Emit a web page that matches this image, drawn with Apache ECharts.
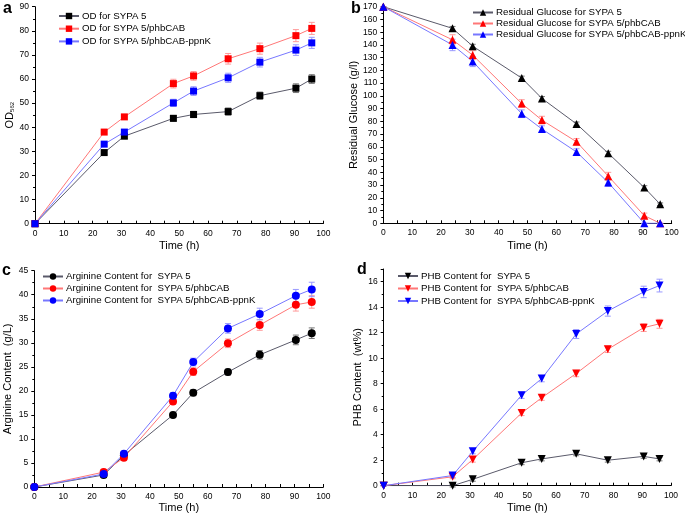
<!DOCTYPE html>
<html><head><meta charset="utf-8">
<script src="https://cdn.jsdelivr.net/npm/echarts@6/dist/echarts.min.js"></script>
<style>html,body{margin:0;padding:0;background:#fff}#c{width:685px;height:517px}</style>
</head><body><div id="c"></div>
<script>
const time = [0, 24, 31, 48, 55, 67, 78, 90.5, 96];

// Panel a: OD562
const odNames = ['OD for SYPA 5', 'OD for SYPA 5/phbCAB', 'OD for SYPA 5/phbCAB-ppnK'];
const odBlack = [0, 29.5, 36.3, 43.7, 45.3, 46.5, 53.1, 56.2, 60.0];
const odRed   = [0, 38.0, 44.3, 58.1, 61.3, 68.4, 72.6, 78.0, 81.0];
const odBlue  = [0, 33.0, 38.0, 50.1, 55.0, 60.5, 67.0, 72.0, 75.0];
const odBlackErr = [0, 0.8, 1.0, 1.2, 1.3, 1.5, 1.5, 1.8, 1.8];
const odRedErr   = [0, 0.8, 1.0, 1.8, 1.8, 2.2, 2.3, 2.5, 2.5];
const odBlueErr  = [0, 0.8, 1.0, 1.5, 1.8, 1.9, 2.0, 2.2, 2.3];

// Panel b: residual glucose
const gluNames = ['Residual Glucose for SYPA 5', 'Residual Glucose for SYPA 5/phbCAB', 'Residual Glucose for SYPA 5/phbCAB-ppnK'];
const gluBlack = [170, 153, 139, 114, 98, 78, 55, 28, 15];
const gluRed   = [170, 144, 132, 94, 81, 64, 37, 6, 0];
const gluBlue  = [170, 140, 127, 86, 74, 56, 32, 0, 0];
const gluBlackErr = [0, 1.5, 1.5, 1.5, 1.5, 1.5, 1.5, 1.5, 1];
const gluRedErr   = [0, 4, 3.5, 3, 3, 2.5, 3, 2, 0];
const gluBlueErr  = [0, 4.5, 4, 3, 2.5, 2.5, 3, 0, 0];

// Panel c: arginine content
const argNames = ['Arginine Content for  SYPA 5', 'Arginine Content for  SYPA 5/phbCAB', 'Arginine Content for  SYPA 5/phbCAB-ppnK'];
const argBlack = [0, 2.5, 6.6, 15.0, 19.6, 23.9, 27.5, 30.6, 32.0];
const argRed   = [0, 3.1, 6.1, 17.8, 24.0, 29.9, 33.7, 37.9, 38.5];
const argBlue  = [0, 2.7, 6.9, 19.0, 26.0, 33.0, 36.0, 39.8, 41.1];
const argBlackErr = [0, 0.5, 0.5, 0.5, 0.6, 0.6, 0.9, 1.0, 1.1];
const argRedErr   = [0, 0.5, 0.5, 0.6, 0.8, 0.9, 1.1, 1.3, 1.3];
const argBlueErr  = [0, 0.5, 0.5, 0.6, 0.8, 1.0, 1.2, 1.3, 1.5];

// Panel d: PHB content
const phbNames = ['PHB Content for  SYPA 5', 'PHB Content for  SYPA 5/phbCAB', 'PHB Content for  SYPA 5/phbCAB-ppnK'];
const phbBlack = [0, 0, 0.5, 1.8, 2.1, 2.5, 2.0, 2.3, 2.1];
const phbRed   = [0, 0.7, 2.05, 5.7, 6.9, 8.8, 10.7, 12.4, 12.7];
const phbBlue  = [0, 0.8, 2.7, 7.1, 8.4, 11.9, 13.7, 15.2, 15.7];
const phbBlackErr = [0, 0.1, 0.15, 0.15, 0.15, 0.15, 0.15, 0.15, 0.15];
const phbRedErr   = [0, 0.15, 0.2, 0.2, 0.2, 0.25, 0.25, 0.3, 0.35];
const phbBlueErr  = [0, 0.15, 0.2, 0.25, 0.25, 0.35, 0.4, 0.45, 0.5];

const xTicksMax = 100;

const FONT = 'Liberation Sans';
const markColors = ['#000000', '#ff0000', '#0000ff'];
const lineColors = ['#5a5a6a', '#ff7777', '#7777ff'];
const errColors  = ['#777777', '#ff9a9a', '#9a9aff'];

const series = [];
function addPanel(g, names, vals, errs, symbol, rotate, size) {
  for (let k = 0; k < 3; k++) {
    const v = vals[k], e = errs[k];
    series.push({
      type: 'custom', xAxisIndex: g, yAxisIndex: g, z: 1, silent: true,
      data: time.map((t, i) => [t, v[i] - e[i], v[i] + e[i]]),
      encode: { x: 0, y: [1, 2] },
      renderItem: function (params, api) {
        const x = api.value(0);
        const lo = api.coord([x, api.value(1)]);
        const hi = api.coord([x, api.value(2)]);
        const hw = 3;
        const st = { stroke: errColors[k], lineWidth: 1 };
        return { type: 'group', children: [
          { type: 'line', shape: { x1: lo[0], y1: lo[1], x2: hi[0], y2: hi[1] }, style: st },
          { type: 'line', shape: { x1: lo[0] - hw, y1: lo[1], x2: lo[0] + hw, y2: lo[1] }, style: st },
          { type: 'line', shape: { x1: hi[0] - hw, y1: hi[1], x2: hi[0] + hw, y2: hi[1] }, style: st }
        ]};
      }
    });
    series.push({
      type: 'line', name: names[k], xAxisIndex: g, yAxisIndex: g, z: 3,
      data: time.map((t, i) => [t, v[i]]),
      symbol: symbol, symbolSize: size, symbolRotate: rotate, showAllSymbol: true,
      itemStyle: { color: markColors[k], borderWidth: 0 },
      lineStyle: { color: lineColors[k], width: 1 },
      emphasis: { disabled: true }, animation: false
    });
  }
}
addPanel(0, odNames, [odBlack, odRed, odBlue], [odBlackErr, odRedErr, odBlueErr], 'rect', 0, 7);
addPanel(1, gluNames, [gluBlack, gluRed, gluBlue], [gluBlackErr, gluRedErr, gluBlueErr], 'triangle', 0, 8);
addPanel(2, argNames, [argBlack, argRed, argBlue], [argBlackErr, argRedErr, argBlueErr], 'circle', 0, 8);
addPanel(3, phbNames, [phbBlack, phbRed, phbBlue], [phbBlackErr, phbRedErr, phbBlueErr], 'triangle', 180, 8);

const grids = [
  { left: 35, top: 6.7, width: 288.3, height: 217 },
  { left: 383.3, top: 6.7, width: 288.4, height: 216.6 },
  { left: 34.3, top: 270.7, width: 289, height: 216.3 },
  { left: 383.7, top: 269, width: 287.3, height: 216.7 }
];
const axLine = { show: true, onZero: false, lineStyle: { color: '#000', width: 1 } };
function xAx(g, gap) {
  return {
    type: 'value', gridIndex: g, min: 0, max: xTicksMax, interval: 10,
    axisLine: axLine, splitLine: { show: false },
    axisTick: { show: true, inside: true, length: 3, lineStyle: { color: '#000' } },
    minorTick: { show: true, splitNumber: 2, length: 3, lineStyle: { color: '#000' } },
    axisLabel: { fontFamily: FONT, fontSize: 8.5, color: '#000', margin: 5 },
    name: 'Time (h)', nameLocation: 'middle', nameGap: gap,
    nameTextStyle: { fontFamily: FONT, fontSize: 11, color: '#000' }
  };
}
function yAx(g, max, interval, name, gap, extra) {
  return Object.assign({
    type: 'value', gridIndex: g, min: 0, max: max, interval: interval,
    axisLine: axLine, splitLine: { show: false },
    axisTick: { show: true, inside: false, length: 3, lineStyle: { color: '#000' } },
    minorTick: { show: true, splitNumber: 2, length: 2, lineStyle: { color: '#000' } },
    axisLabel: { fontFamily: FONT, fontSize: 8.5, color: '#000', margin: 6 },
    name: name, nameLocation: 'middle', nameGap: gap, nameRotate: 90,
    nameTextStyle: { fontFamily: FONT, fontSize: 11, color: '#000',
      rich: { m: { fontFamily: FONT, fontSize: 11, color: '#000' },
              s: { fontFamily: FONT, fontSize: 6, color: '#000', verticalAlign: 'bottom', padding: [6, 0, 0, 0] } } }
  }, extra || {});
}
function legend(names, left, top, gap) {
  return {
    data: names, orient: 'vertical', left: left, top: top, padding: 0,
    itemWidth: 20, itemHeight: 8, itemGap: gap, selectedMode: false,
    textStyle: { fontFamily: FONT, fontSize: 9.7, color: '#000', lineHeight: 10, padding: [0, 0, 0, -2] }
  };
}
const title = ['a', 'b', 'c', 'd'].map((t, i) => ({
  text: t, left: [3, 351, 2, 357][i], top: [1, 1, 263, 262][i], padding: 0,
  textStyle: { fontFamily: FONT, fontSize: 16, fontWeight: 'bold', color: '#000' }
}));

const chart = echarts.init(document.getElementById('c'), null, { renderer: 'canvas' });
chart.setOption({
  animation: false,
  backgroundColor: '#fff',
  title: title,
  grid: grids,
  xAxis: [xAx(0, 17), xAx(1, 17), xAx(2, 15), xAx(3, 17)],
  yAxis: [
    yAx(0, 90, 10, '{m|OD}{s|562}', 17),
    yAx(1, 170, 10, 'Residual Glucose (g/l)', 20),
    yAx(2, 45, 5, 'Arginine Content  (g/L)', 21),
    yAx(3, 17, 2, 'PHB Content  (wt%)', 20, { axisLabel: { fontFamily: FONT, fontSize: 8.5, color: '#000', margin: 6, showMaxLabel: false } })
  ],
  legend: [
    legend(odNames, 58, 11, 2.7),
    legend(gluNames, 472, 7.5, 1),
    legend(argNames, 42, 271.5, 2),
    legend(phbNames, 397, 271, 2.5)
  ],
  series: series
});
</script></body></html>
